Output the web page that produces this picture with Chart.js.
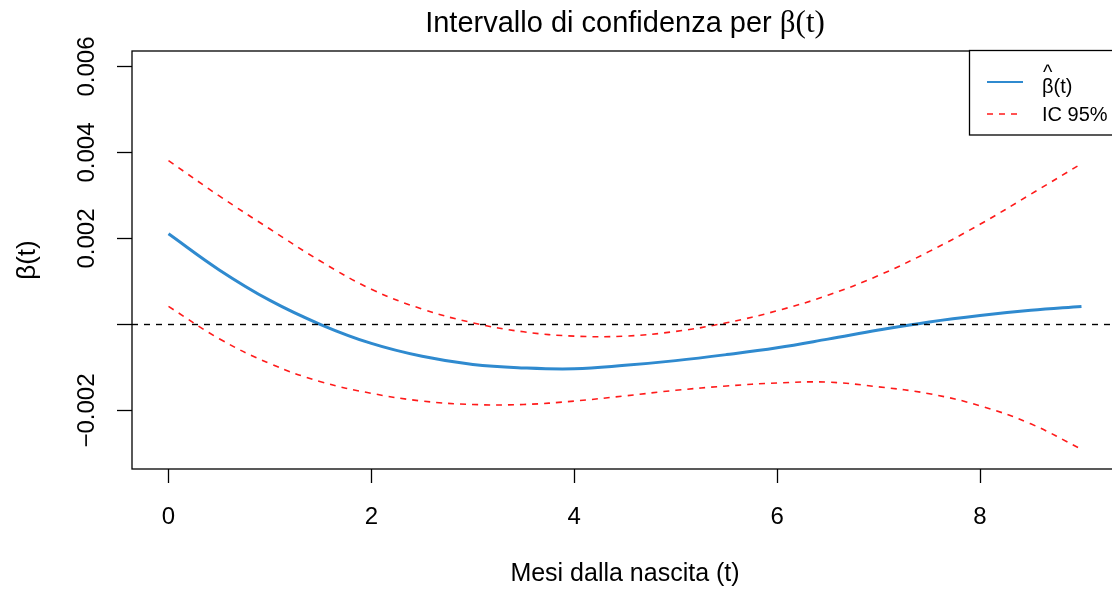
<!DOCTYPE html>
<html><head><meta charset="utf-8">
<script src="https://cdn.jsdelivr.net/npm/chart.js@4.4.1/dist/chart.umd.min.js"></script>
<style>
html,body{margin:0;padding:0;overflow:hidden;background:#fff;width:1112px;height:590px}
#wrap{position:relative;width:1120px;height:590px}
</style></head>
<body><div id="wrap"><canvas id="c" width="1120" height="590"></canvas></div>
<script>
// ---- data ----
const months   = [0,0.5,1,1.5,2,2.5,3,3.5,4,4.5,5,5.5,6,6.5,7,7.5,8,8.5,9];
const betaHat  = [0.00211,0.00127,0.00056,0.00000,-0.00044,-0.00074,-0.00093,-0.00101,-0.00103,-0.00095,-0.00084,-0.00070,-0.00054,-0.00034,-0.00013,0.00006,0.00021,0.00033,0.00042];
const icUpper  = [0.00381,0.00299,0.00222,0.00147,0.00082,0.00036,0.00004,-0.00017,-0.00027,-0.00027,-0.00016,0.00004,0.00032,0.00068,0.00114,0.00170,0.00233,0.00303,0.00374];
const icLower  = [0.00042,-0.00033,-0.00091,-0.00133,-0.00160,-0.00178,-0.00186,-0.00186,-0.00178,-0.00166,-0.00153,-0.00143,-0.00136,-0.00134,-0.00145,-0.00161,-0.00189,-0.00231,-0.00290];
const xTicks   = [0,2,4,6,8];
const yTicks   = [-0.002,0,0.002,0.004,0.006];
const xLimits  = [-0.36,9.36];
const yLimits  = [-0.00336,0.00636];
const zeroLevel = 0;
const titleText = 'Intervallo di confidenza per ';
const titleMath = 'β(t)';
const xTitle = 'Mesi dalla nascita (t)';
const yTitle = 'β(t)';
const legendLabels = ['β(t)','IC 95%'];

const SANS = '"Liberation Sans", Arial, Helvetica, sans-serif';
const SERIF = '"Liberation Serif", "Times New Roman", serif';
const BLUE = '#2F8ACF';
const RED = '#FF1A1A';

function pts(xs, ys){ return xs.map((x,i)=>({x:x,y:ys[i]})); }
function fmt(v){ if (Math.abs(v) < 1e-12) return ''; return (v<0?'\u2212':'') + Math.abs(v).toFixed(3); }

const decor = {
  id:'decor',
  afterDraw(chart){
    const ctx = chart.ctx, a = chart.chartArea;
    ctx.save();
    // plot box
    ctx.strokeStyle = '#000'; ctx.lineWidth = 1.3; ctx.setLineDash([]);
    ctx.strokeRect(a.left, a.top, a.right - a.left, a.bottom - a.top);
    // title
    ctx.fillStyle = '#000'; ctx.textBaseline = 'alphabetic'; ctx.textAlign = 'left';
    ctx.font = '29px ' + SANS;
    const w1 = ctx.measureText(titleText).width;
    ctx.font = '31px ' + SERIF;
    const w2 = ctx.measureText(titleMath).width;
    const cx = (a.left + a.right) / 2;
    const sx = cx - (w1 + w2) / 2;
    ctx.font = '29px ' + SANS;
    ctx.fillText(titleText, sx, 32);
    ctx.font = '31px ' + SERIF;
    ctx.fillText(titleMath, sx + w1, 32);
    // legend
    const lx = 969.5, ly = 50.5, lw = 200, lh = 84.5;
    ctx.fillStyle = '#fff'; ctx.fillRect(lx, ly, lw, lh);
    ctx.strokeStyle = '#000'; ctx.lineWidth = 1.3; ctx.strokeRect(lx, ly, lw, lh);
    ctx.lineWidth = 2; ctx.strokeStyle = BLUE;
    ctx.beginPath(); ctx.moveTo(987, 82); ctx.lineTo(1023, 82); ctx.stroke();
    ctx.lineWidth = 1.5; ctx.strokeStyle = RED; ctx.setLineDash([6,6]);
    ctx.beginPath(); ctx.moveTo(987, 114); ctx.lineTo(1023, 114); ctx.stroke();
    ctx.setLineDash([]);
    ctx.fillStyle = '#000'; ctx.font = '20px ' + SANS; ctx.textBaseline = 'middle';
    ctx.fillText(legendLabels[0], 1042, 87);
    const bw = ctx.measureText('β').width;
    ctx.textAlign = 'center';
    ctx.fillText('^', 1042 + bw/2, 73);
    ctx.textAlign = 'left';
    ctx.fillText(legendLabels[1], 1042, 115);
    ctx.restore();
  }
};

new Chart(document.getElementById('c'), {
  type:'line',
  data:{
    datasets:[
      {label:'zero', data:[{x:xLimits[0],y:zeroLevel},{x:xLimits[1],y:zeroLevel}], borderColor:'#000', borderWidth:1.4, borderDash:[6,6], pointRadius:0, tension:0},
      {label:'beta', data:pts(months, betaHat), borderColor:BLUE, borderWidth:3, pointRadius:0, tension:0.4},
      {label:'upper', data:pts(months, icUpper), borderColor:RED, borderWidth:1.6, borderDash:[6,6], pointRadius:0, tension:0.4},
      {label:'lower', data:pts(months, icLower), borderColor:RED, borderWidth:1.6, borderDash:[6,6], pointRadius:0, tension:0.4}
    ]
  },
  options:{
    responsive:false, animation:false, devicePixelRatio:1,
    layout:{padding:{top:51, right:2, left:0, bottom:0}},
    plugins:{legend:{display:false}, tooltip:{enabled:false}, title:{display:false}},
    scales:{
      x:{
        type:'linear', min:xLimits[0], max:xLimits[1],
        afterBuildTicks:s=>{ s.ticks = xTicks.map(v=>({value:v})); },
        afterFit:s=>{ s.height = 121; },
        grid:{drawOnChartArea:false, drawTicks:true, tickLength:14, tickColor:'#000', tickWidth:1.3},
        border:{display:false},
        ticks:{font:{size:24, family:SANS}, color:'#000', padding:20, maxRotation:0, callback:v=>String(v)},
        title:{display:true, text:xTitle, font:{size:25, family:SANS}, color:'#000', padding:{top:0,bottom:1}}
      },
      y:{
        type:'linear', min:yLimits[0], max:yLimits[1],
        afterBuildTicks:s=>{ s.ticks = yTicks.map(v=>({value:v})); },
        afterFit:s=>{ s.width = 132; },
        grid:{drawOnChartArea:false, drawTicks:true, tickLength:15, tickColor:'#000', tickWidth:1.3},
        border:{display:false},
        ticks:{font:{size:24, family:SANS}, color:'#000', padding:-7.5, minRotation:90, maxRotation:90, crossAlign:'center', callback:v=>fmt(v)},
        title:{display:true, text:yTitle, font:{size:26, family:SANS}, color:'#000', padding:{top:12,bottom:0}}
      }
    }
  },
  plugins:[decor]
});
</script>
</body></html>
